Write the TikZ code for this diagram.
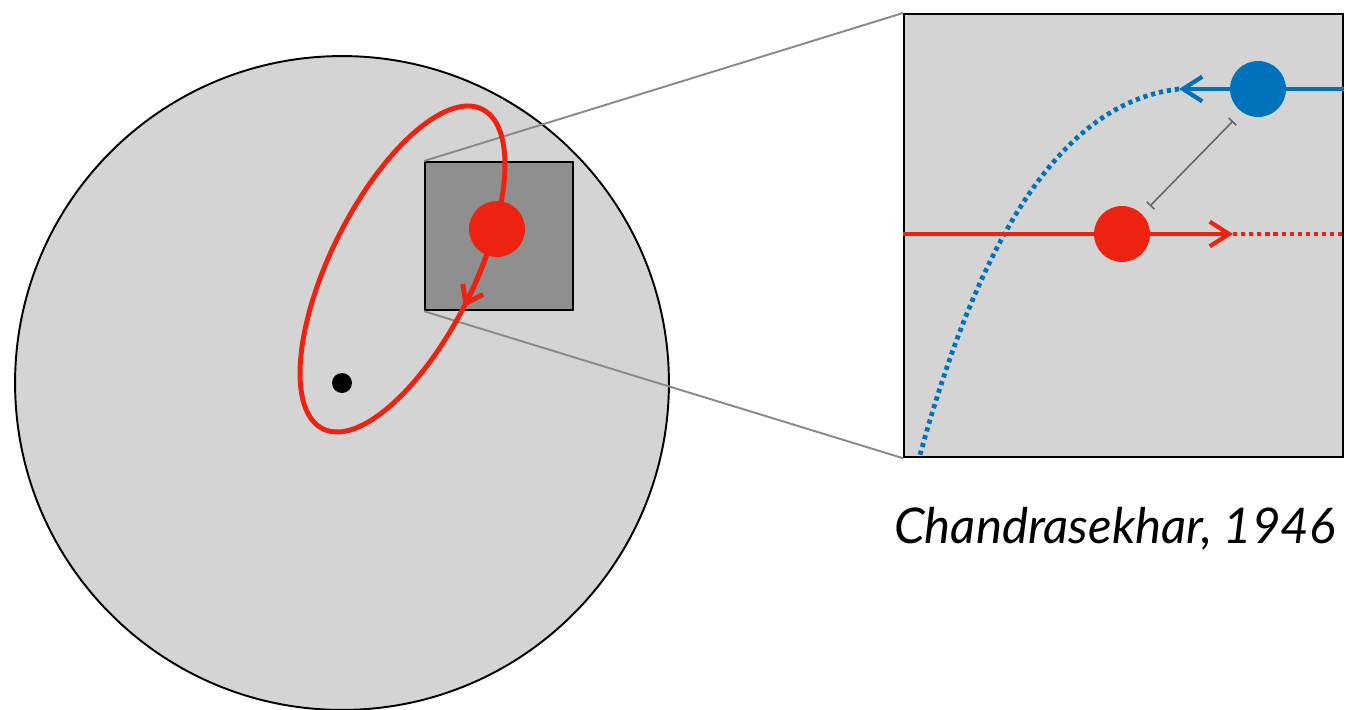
\documentclass[tikz,border=0pt]{standalone}
\usepackage{fontspec}
\setsansfont{Lato}
\usetikzlibrary{arrows.meta}
\definecolor{orbred}{HTML}{EE2211}
\definecolor{zblue}{HTML}{0072BB}
\definecolor{bgray}{HTML}{D4D4D4}
\definecolor{dgray}{HTML}{8F8F8F}
\definecolor{zline}{HTML}{8A8A8A}
\definecolor{sepgray}{HTML}{666666}
\begin{document}
\begin{tikzpicture}[x=0.02cm,y=-0.02cm,
  outline/.style={draw=black,line width=1.1pt},
  ball/.style={circle,inner sep=0pt,minimum size=1.12cm},
  orbit/.style={draw=orbred,line width=2.8pt},
  redl/.style={draw=orbred,line width=2.4pt},
  bluel/.style={draw=zblue,line width=2.4pt},
  dots/.style={line width=2.7pt,dash pattern=on 2.4pt off 2.2pt},
  barb/.style={-{Straight Barb[length=11pt,width=14pt]}},
  zoomline/.style={draw=zline,line width=1.1pt}]
\useasboundingbox (0,0) rectangle (1346,710);
\fill[white] (0,0) rectangle (1346,710);
% star system
\node[circle,outline,fill=bgray,inner sep=0pt,minimum size=13.08cm] (disk) at (342,383) {};
\node[outline,line width=1.3pt,fill=dgray,inner sep=0pt,minimum width=2.96cm,minimum height=2.96cm,anchor=north west] (sq) at (424,161) {};
% zoom panel
\node[outline,line width=1.3pt,fill=bgray,inner sep=0pt,minimum width=8.78cm,minimum height=8.86cm,anchor=north west] (panel) at (903,13) {};
\draw[zoomline] (sq.north west) -- (panel.north west);
\draw[zoomline] (sq.south west) -- (panel.south west);
% orbit
\draw[orbit] plot[domain=0:360,samples=120,smooth] ({402.5+65.5*cos(\x)+78.8*sin(\x)},{269-163*cos(\x)}) -- cycle;
\draw[orbit,-{Straight Barb[length=9pt,width=13pt]}] plot[domain=76:103.5,samples=20] ({402.5+65.5*cos(\x)+78.8*sin(\x)},{269-163*cos(\x)});
\node[ball,fill=orbred] (star) at (497,229) {};
\node[circle,fill=black,inner sep=0pt,minimum size=0.4cm] (bh) at (342,383) {};
% panel contents
\coordinate (rc) at (1122,234);
\coordinate (rtip) at (1233,234);
\coordinate (bc) at (1258,89);
\coordinate (btip) at (1179,89);
\coordinate (bend) at (920,455);
\draw[bluel,dots] (btip) .. controls (1080,100) and (990,200) .. (bend);
\draw[redl] (panel.west |- rc) -- (rc);
\draw[redl,barb] (rc) -- (rtip);
\draw[redl,dots] (rtip) -- (panel.east |- rtip);
\draw[bluel] (panel.east |- bc) -- (bc);
\draw[bluel,barb] (bc) -- (btip);
\node[ball,fill=orbred] (rb) at (rc) {};
\node[ball,fill=zblue] (bb) at (bc) {};
\coordinate (s1) at (1233,121);
\coordinate (s2) at (1150,206);
\draw[sepgray,line width=0.9pt,{Bar[width=6pt]}-{Bar[width=6pt]}] (s1) -- (s2);
\node[font=\sffamily\itshape\fontsize{28}{32}\selectfont,anchor=base east,inner sep=0pt] (cite) at (1336,543) {Chandrasekhar, 1946};
\end{tikzpicture}
\end{document}
